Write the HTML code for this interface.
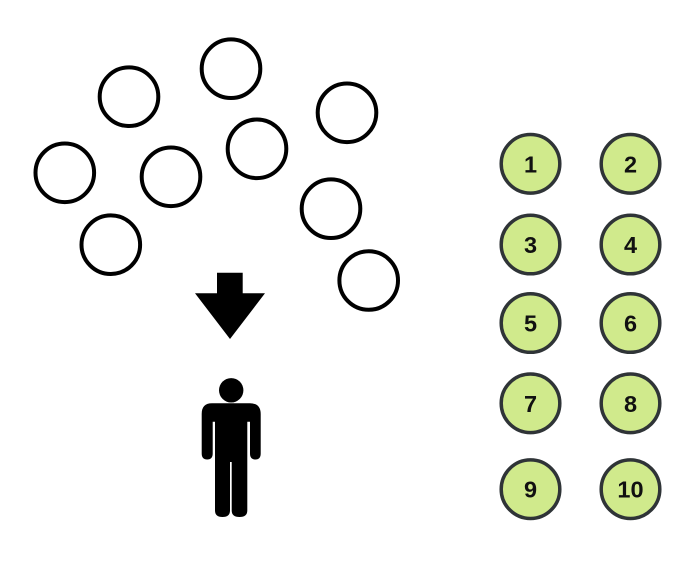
<!DOCTYPE html>
<html><head><meta charset="utf-8"><style>
html,body{margin:0;padding:0;background:#fff;}
svg{display:block;}
text{font-family:"Liberation Sans",sans-serif;font-weight:bold;font-size:23.5px;fill:#111;}
</style></head><body>
<svg width="696" height="562" viewBox="0 0 696 562" xmlns="http://www.w3.org/2000/svg">
<rect width="696" height="562" fill="#fff"/>
<g fill="none" stroke="#000" stroke-width="4">
<circle cx="231" cy="68.7" r="29.3"/>
<circle cx="129" cy="96.7" r="29.3"/>
<circle cx="347" cy="112.8" r="29.3"/>
<circle cx="257" cy="148.8" r="29.3"/>
<circle cx="64.8" cy="172.8" r="29.3"/>
<circle cx="171" cy="176.8" r="29.3"/>
<circle cx="331" cy="208.7" r="29.3"/>
<circle cx="110.8" cy="244.7" r="29.3"/>
<circle cx="368.7" cy="280.5" r="29.3"/>
</g>
<polygon points="217,272.7 242.7,272.7 242.7,293.3 265,293.3 230,339 195,293.3 217,293.3" fill="#000"/>
<g fill="#000">
<circle cx="231.2" cy="390.3" r="12.2"/>
<path d="M212,403.3 H250 Q260.7,403.3 260.7,414 V453.5 Q260.7,459.5 255.5,459.5 Q250,459.5 250,453.5 V421.7 H247.3 V510.5 Q247.3,517 239.5,517 Q231.7,517 231.7,510.5 V462 H230 V510.5 Q230,517 222.5,517 Q215,517 215,510.5 V421.7 H212.7 V453.5 Q212.7,459.5 207.2,459.5 Q201.7,459.5 201.7,453.5 V414 Q201.7,403.3 212,403.3 Z"/>
</g>
<g fill="#d0ea8c" stroke="#2f3437" stroke-width="3.5">
<circle cx="530.5" cy="163.8" r="29.3"/>
<circle cx="630.5" cy="163.8" r="29.3"/>
<circle cx="530.5" cy="244.5" r="29.3"/>
<circle cx="630.5" cy="244.5" r="29.3"/>
<circle cx="530.5" cy="323" r="29.3"/>
<circle cx="630.5" cy="323" r="29.3"/>
<circle cx="530.5" cy="403.3" r="29.3"/>
<circle cx="630.5" cy="403.3" r="29.3"/>
<circle cx="530.5" cy="489.2" r="29.3"/>
<circle cx="630.5" cy="489.2" r="29.3"/>
</g>
<g text-anchor="middle">
<text x="530.5" y="172.3">1</text>
<text x="630.5" y="172.3">2</text>
<text x="530.5" y="253">3</text>
<text x="630.5" y="253">4</text>
<text x="530.5" y="331.5">5</text>
<text x="630.5" y="331.5">6</text>
<text x="530.5" y="411.8">7</text>
<text x="630.5" y="411.8">8</text>
<text x="530.5" y="497.7">9</text>
<text x="630.5" y="497.7">10</text>
</g>
</svg>
</body></html>
